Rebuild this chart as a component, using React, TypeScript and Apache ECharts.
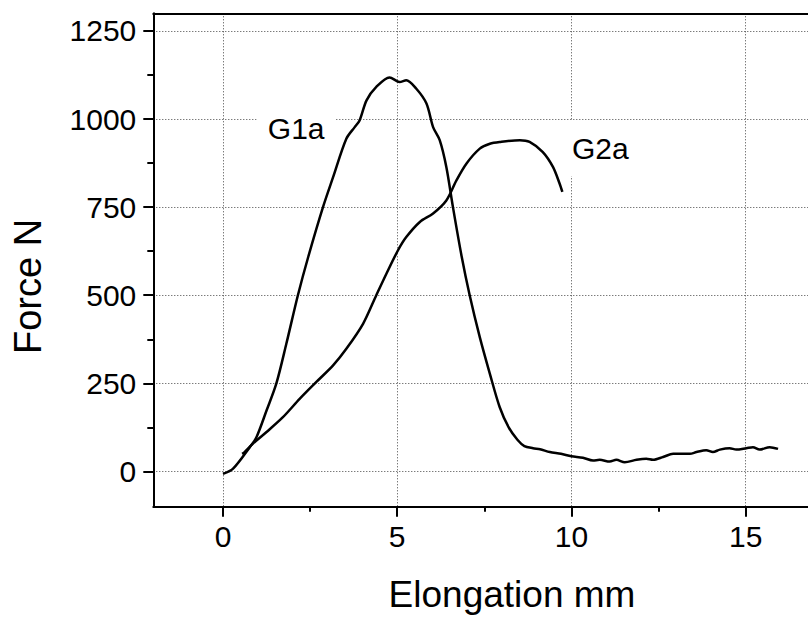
import React, { useEffect, useRef } from "react";
import * as echarts from "echarts";

// G1a curve (elongation mm, force N)
const g1X = [0, 0.29, 0.77, 0.96, 1.25, 1.53, 1.82, 2.15, 2.45, 2.87, 3.16, 3.54, 3.78, 3.92, 4.12, 4.4, 4.78, 5.07, 5.26, 5.55, 5.84, 6.03, 6.22, 6.41, 6.6, 6.85, 7.08, 7.37, 7.66, 7.94, 8.2, 8.45, 8.65, 8.9, 9.1, 9.38, 9.7, 10.0, 10.33, 10.62, 10.81, 11.1, 11.29, 11.53, 11.87, 12.15, 12.34, 12.63, 12.92, 13.4, 13.59, 13.87, 14.06, 14.26, 14.54, 14.73, 15.02, 15.21, 15.4, 15.69, 15.93];
const g1Y = [-7, 8, 69, 97, 173, 249, 363, 500, 610, 750, 835, 944, 977, 996, 1053, 1091, 1118, 1105, 1110, 1086, 1044, 977, 940, 864, 750, 610, 500, 381, 277, 183, 125, 90, 72, 66, 63, 55, 50, 43, 39, 31, 33, 28, 33, 26, 33, 36, 33, 41, 50, 50, 55, 60, 55, 62, 66, 62, 66, 69, 62, 69, 64];

// G2a curve
const g2X = [0.55, 0.62, 0.86, 1.25, 1.72, 2.2, 2.68, 3.16, 3.54, 4.02, 4.4, 4.69, 5.02, 5.26, 5.65, 6.03, 6.41, 6.7, 6.99, 7.37, 7.66, 7.94, 8.52, 8.8, 9.18, 9.47, 9.66, 9.74];
const g2Y = [50, 55, 79, 112, 154, 206, 254, 301, 348, 419, 500, 561, 627, 665, 708, 732, 769, 826, 874, 916, 930, 935, 940, 935, 906, 864, 817, 793];

// Axis ticks
const xTicks = [0, 5, 10, 15];
const xMinorTicks = [2.5, 7.5, 12.5];
const yTicks = [0, 250, 500, 750, 1000, 1250];
const yMinorTicks = [125, 375, 625, 875, 1125];

// Curve labels [name, x, y]
const curveLabels: [string, number, number][] = [
  ["G1a", 2.1, 974],
  ["G2a", 10.83, 917],
];

const FONT = "'Liberation Sans', Arial, Helvetica, sans-serif";

export default function App() {
  const ref = useRef<HTMLDivElement>(null);
  useEffect(() => {
    if (!ref.current) return;
    const chart = echarts.init(ref.current, null, { renderer: "svg" });
    const toPairs = (xs: number[], ys: number[]) => xs.map((x, i) => [x, ys[i]]);
    const fmt = (v: number) => String(v);
    const xRange = { min: -2, max: 16.79 };
    const yRange = { min: -100, max: 1300 };
    chart.setOption({
      animation: false,
      backgroundColor: "#ffffff",
      grid: {
        left: 153.3,
        top: 13.3,
        bottom: 112.3,
        right: 0,
        show: false,
        containLabel: false,
      },
      xAxis: [
        {
          type: "value",
          ...xRange,
          position: "bottom",
          axisLine: { show: true, onZero: false, lineStyle: { color: "#000", width: 2 } },
          axisTick: { show: true, customValues: xTicks, length: 10, lineStyle: { color: "#000", width: 2 } },
          axisLabel: { customValues: xTicks, formatter: fmt, fontSize: 30, color: "#000", fontFamily: FONT, margin: 15 },
          splitLine: { show: true, lineStyle: { color: "#444", width: 1, type: [1, 2] } },
        },
        {
          type: "value",
          ...xRange,
          position: "bottom",
          axisLine: { show: false, onZero: false },
          axisTick: { show: true, customValues: xMinorTicks, length: 5, lineStyle: { color: "#000", width: 2 } },
          axisLabel: { show: false },
          splitLine: { show: false },
        },
        {
          type: "value",
          ...xRange,
          position: "top",
          axisLine: { show: true, onZero: false, lineStyle: { color: "#000", width: 2 } },
          axisTick: { show: false },
          axisLabel: { show: false },
          splitLine: { show: false },
        },
      ],
      yAxis: [
        {
          type: "value",
          ...yRange,
          position: "left",
          axisLine: { show: true, onZero: false, lineStyle: { color: "#000", width: 2 } },
          axisTick: { show: true, customValues: yTicks, length: 10, lineStyle: { color: "#000", width: 2 } },
          axisLabel: { customValues: yTicks, formatter: fmt, fontSize: 30, color: "#000", fontFamily: FONT, margin: 17 },
          splitLine: { show: true, lineStyle: { color: "#444", width: 1, type: [1, 2] } },
        },
        {
          type: "value",
          ...yRange,
          position: "left",
          axisLine: { show: false, onZero: false },
          axisTick: { show: true, customValues: yMinorTicks, length: 6, lineStyle: { color: "#000", width: 2 } },
          axisLabel: { show: false },
          splitLine: { show: false },
        },
      ],
      graphic: [
        {
          type: "text",
          x: 28,
          y: 286.5,
          rotation: Math.PI / 2,
          style: {
            text: "Force N",
            fontSize: 38,
            fontFamily: FONT,
            fill: "#000",
            align: "center",
            verticalAlign: "middle",
          },
        },
        {
          type: "text",
          x: 512,
          y: 594,
          style: {
            text: "Elongation mm",
            fontSize: 37,
            fontFamily: FONT,
            fill: "#000",
            align: "center",
            verticalAlign: "middle",
          },
        },
      ],
      series: [
        {
          type: "line",
          name: "G1a",
          data: toPairs(g1X, g1Y),
          showSymbol: false,
          smooth: 0.3,
          lineStyle: { color: "#000", width: 2.5 },
          z: 3,
        },
        {
          type: "line",
          name: "G2a",
          data: toPairs(g2X, g2Y),
          showSymbol: false,
          smooth: 0.3,
          lineStyle: { color: "#000", width: 2.5 },
          z: 3,
          markPoint: {
            symbol: "circle",
            symbolSize: 0,
            silent: true,
            data: curveLabels.map(([name, x, y]) => ({
              coord: [x, y],
              value: name,
              label: {
                show: true,
                position: "inside",
                formatter: name,
                fontSize: 30,
                fontFamily: FONT,
                color: "#000",
                backgroundColor: "#fff",
                padding: [13, 11],
              },
            })),
          },
        },
      ],
    });
    return () => chart.dispose();
  }, []);
  return (
    <div
      ref={ref}
      style={{ position: "absolute", left: 0, top: 0, width: 808, height: 619 }}
    />
  );
}
